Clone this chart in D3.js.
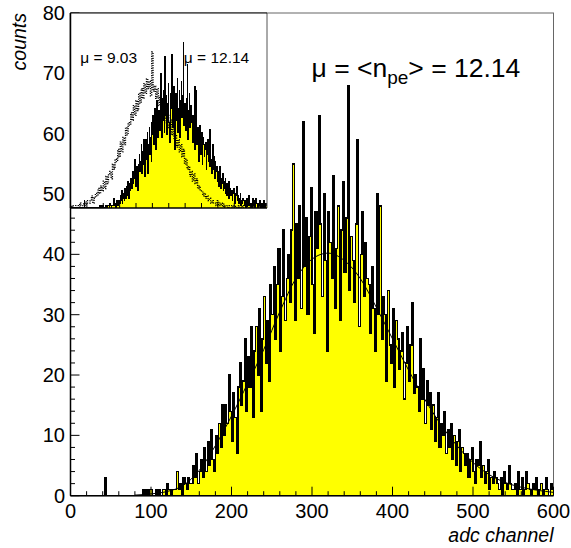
<!DOCTYPE html>
<html><head><meta charset="utf-8">
<script src="https://cdn.jsdelivr.net/npm/d3@7"></script>
<style>body{margin:0;background:#fff} svg{display:block}</style>
</head><body>
<svg id="c" width="571" height="548"></svg>
<script>
// ---- data ----
const binWidth = 2; // adc channels per bin, main histogram (mu = 12.14)
const mainCounts = [
  0,0,0,0,0,0,0,0,0,0, 0,0,0,0,0,0,0,0,0,0, 0,3,0,0,0,0,0,0,0,0, 0,0,0,0,0,0,0,0,0,0, 0,0,0,0,0,
  1,0,1,0,1,1,0,0,1,0,
  1,0,1,1,0,2,1,0,1,1,
  1,4,1,2,0,3,2,1,3,2,
  2,5,3,7,2,4,6,3,8,4,
  9,5,11,6,4,10,7,12,8,15,
  10,15,12,20,14,9,17,13,7,18,
  22,15,19,26,14,23,18,28,13,24,
  28,20,31,14,26,33,22,29,19,35,
  30,38,26,35,41,24,33,44,29,36,
  40,32,44,55,29,45,36,48,31,62,
  38,46,30,43,51,35,27,47,41,63,
  45,33,50,39,24,47,42,36,53,31,
  41,48,29,44,52,37,46,68,34,43,
  39,32,45,59,28,40,47,33,42,36,
  35,27,38,31,24,50,30,48,26,33,
  30,19,34,25,22,31,18,29,26,21,
  24,27,16,22,28,19,25,32,17,20,
  18,14,26,16,21,12,19,15,17,11,
  15,9,13,17,8,12,10,14,7,11,
  8,12,6,10,5,9,11,4,8,7,
  5,7,3,6,8,4,2,6,5,9,
  3,5,2,4,6,1,3,2,4,3,
  2,1,3,0,4,2,1,5,2,1,
  1,2,0,4,1,3,0,1,4,2,
  1,0,2,1,3,0,1,2,0,1,3,1,0,2,1
];
const dottedBinWidth = 4; // second histogram (mu = 9.03), inset only
const dottedCounts = [
  0,1,0,0,1, 1,0,2,1,1, 2,1,3,2,2, 3,5,2,4,6,
  5,8,6,9,7, 11,8,13,10,14, 15,12,18,16,20, 19,24,21,27,23,
  29,26,33,30,35, 34,39,36,42,38, 44,40,47,43,49, 45,51,47,53,49,
  52,46,64,48,50, 45,49,42,46,40, 41,37,43,35,38, 33,36,30,34,28,
  30,25,28,23,26, 21,24,18,20,16, 17,13,15,11,14, 10,12,8,9,7,
  7,5,6,4,5, 3,4,2,3,2, 2,1,3,1,2, 1,2,0,1,1,
  0,1,1,0,1, 1,0,0,1,0, 0,1,0,0,1, 0,0,1,0,0, 1,0,0,1,0, 0,1,0,0,1
];
const fitAdc    = [80,100,120,140,160,180,200,220,240,260,280,300,320,340,360,380,400,420,440,460,480,500,520,540,560,580,600];
const fitCounts = [0.1,0.3,0.7,1.7,4.2,8.3,13.2,18.6,24.2,30.5,36.0,39.2,40.2,39.0,36.0,31.2,26.0,20.8,16.0,11.8,8.3,5.5,3.5,2.2,1.4,0.9,0.55];
const xTickLabels = [0,100,200,300,400,500,600];
const xMinorTicks = d3.range(0, 601, 20);
const yTickLabels = [0,10,20,30,40,50,60,70,80];
const yMinorTicks = d3.range(0, 81, 2);
const insetTicks = d3.range(50, 600, 50);
const xTitle = "adc channel";
const yTitle = "counts";
const insetLabels = [{text:"\u03bc = 9.03", adc:30}, {text:"\u03bc = 12.14", adc:346}];

// ---- layout ----
const svg = d3.select("#c");
const font = "'Liberation Sans', Arial, Helvetica, sans-serif";
const x = d3.scaleLinear().domain([0,600]).range([70.5,553.5]);
const y = d3.scaleLinear().domain([0,80]).range([495.7,13]);
const xi = d3.scaleLinear().domain([0,600]).range([70.5,267]);
const yi = d3.scaleLinear().domain([0,80]).range([208,13]);

function histPts(counts, bw){
  const p = counts.map((v,i)=>({a:i*bw, v}));
  p.push({a:counts.length*bw, v:counts[counts.length-1]});
  return p;
}
const mainPts = histPts(mainCounts, binWidth);
const dotPts = histPts(dottedCounts, dottedBinWidth);

const area = (sx,sy)=>d3.area().curve(d3.curveStepAfter).x(d=>sx(d.a)).y0(sy(0)).y1(d=>sy(d.v));
const line = (sx,sy)=>d3.line().curve(d3.curveStepAfter).x(d=>sx(d.a)).y(d=>sy(d.v));

// main histogram
svg.append("path").attr("d", area(x,y)(mainPts)).attr("fill","#ffff00");
svg.append("path").attr("d", line(x,y)(mainPts)).attr("fill","none").attr("stroke","#000")
  .attr("stroke-width",1.45).attr("shape-rendering","crispEdges");

// fit
const fitPts = fitAdc.map((a,i)=>({a, v:fitCounts[i]}));
svg.append("path").attr("d", d3.line().curve(d3.curveMonotoneX).x(d=>x(d.a)).y(d=>y(d.v))(fitPts))
  .attr("fill","none").attr("stroke","#000").attr("stroke-width",1);

// frame
svg.append("rect").attr("x",x(0)).attr("y",y(80)).attr("width",x(600)-x(0)).attr("height",y(0)-y(80))
  .attr("fill","none").attr("stroke","#666").attr("stroke-width",1);

// axes lines
svg.append("line").attr("x1",x(0)).attr("x2",x(600)).attr("y1",y(0)).attr("y2",y(0)).attr("stroke","#000").attr("stroke-width",1.5);
svg.append("line").attr("x1",x(0)).attr("x2",x(0)).attr("y1",y(0)).attr("y2",y(80)).attr("stroke","#000").attr("stroke-width",1.5);

// x ticks
svg.append("g").selectAll("line").data(xMinorTicks).join("line")
  .attr("x1",d=>x(d)).attr("x2",d=>x(d)).attr("y1",y(0))
  .attr("y2",d=>y(0)-(d%100===0?9:4.5)).attr("stroke","#000").attr("stroke-width",1);
svg.append("g").selectAll("text").data(xTickLabels).join("text")
  .attr("x",d=>x(d)).attr("y",518).attr("text-anchor","middle")
  .attr("font-family",font).attr("font-size",20).text(d=>d);
// y ticks
svg.append("g").selectAll("line").data(yMinorTicks).join("line")
  .attr("y1",d=>y(d)).attr("y2",d=>y(d)).attr("x1",x(0))
  .attr("x2",d=>x(0)+(d%10===0?9:4.5)).attr("stroke","#000").attr("stroke-width",1);
svg.append("g").selectAll("text").data(yTickLabels).join("text")
  .attr("x",65).attr("y",d=>y(d)+7).attr("text-anchor","end")
  .attr("font-family",font).attr("font-size",20).text(d=>d);

// titles
svg.append("text").attr("x",x(600)).attr("y",542).attr("text-anchor","end")
  .attr("font-family",font).attr("font-style","italic").attr("font-size",19.5).text(xTitle);
svg.append("text").attr("transform",`translate(25.5,${y(80)}) rotate(-90)`).attr("text-anchor","end")
  .attr("font-family",font).attr("font-style","italic").attr("font-size",19.5).text(yTitle);

// main label
const lab = svg.append("text").attr("x",311.5).attr("y",77).attr("font-family",font).attr("font-size",26.5);
lab.append("tspan").text("\u03bc = <n");
lab.append("tspan").attr("dy",7).attr("font-size",19).text("pe");
lab.append("tspan").attr("dy",-7).text("> = 12.14");

// ---- inset ----
const inset = svg.append("g");
inset.append("clipPath").attr("id","ic").append("rect")
  .attr("x",xi(0)).attr("y",yi(80)).attr("width",xi(600)-xi(0)).attr("height",yi(0)-yi(80));
inset.append("rect").attr("x",xi(0)).attr("y",yi(80)).attr("width",xi(600)-xi(0)).attr("height",yi(0)-yi(80)).attr("fill","#fff");
const ig = inset.append("g").attr("clip-path","url(#ic)");
ig.append("path").attr("d", area(xi,yi)(mainPts)).attr("fill","#ffff00");
ig.append("path").attr("d", line(xi,yi)(mainPts)).attr("fill","none").attr("stroke","#000")
  .attr("stroke-width",1.1).attr("shape-rendering","crispEdges");
ig.append("path").attr("d", line(xi,yi)(dotPts)).attr("fill","none").attr("stroke","#000")
  .attr("stroke-width",1.3).attr("stroke-dasharray","1.2,1.2");
inset.append("g").selectAll("line").data(insetTicks).join("line")
  .attr("x1",d=>xi(d)).attr("x2",d=>xi(d)).attr("y1",yi(0)).attr("y2",yi(0)-5).attr("stroke","#000");
inset.append("line").attr("x1",xi(600)).attr("x2",xi(600)).attr("y1",yi(80)).attr("y2",yi(0)).attr("stroke","#555");
inset.append("line").attr("x1",xi(0)).attr("x2",xi(600)).attr("y1",yi(80)).attr("y2",yi(80)).attr("stroke","#000");
inset.append("line").attr("x1",xi(0)).attr("x2",xi(600)).attr("y1",yi(0)).attr("y2",yi(0)).attr("stroke","#000").attr("stroke-width",1.5);
inset.append("line").attr("x1",xi(0)).attr("x2",xi(0)).attr("y1",yi(0)).attr("y2",yi(80)).attr("stroke","#000").attr("stroke-width",1.5);
inset.append("g").selectAll("text").data(insetLabels).join("text")
  .attr("x",d=>xi(d.adc)).attr("y",63).attr("font-family",font).attr("font-size",15.5).text(d=>d.text);
</script>
</body></html>
